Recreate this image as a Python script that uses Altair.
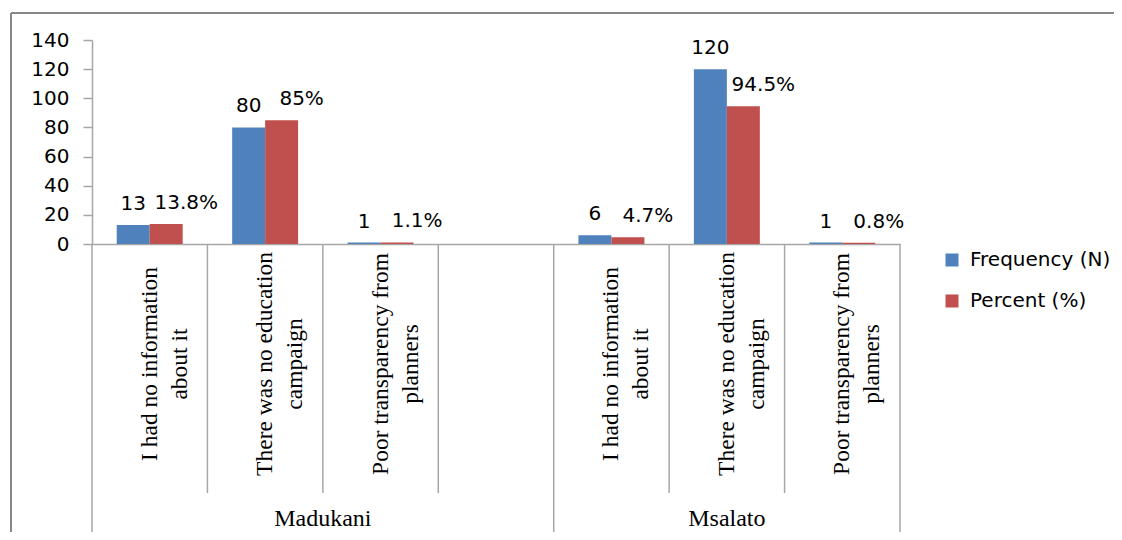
import altair as alt
import pandas as pd

# ---------------- data ----------------
groups = ["Madukani", "Msalato"]
reasons = [
    "I had no information about it",
    "There was no education campaign",
    "Poor transparency from planners",
]
reason_lines = [
    "I had no information\nabout it",
    "There was no education\ncampaign",
    "Poor transparency from\nplanners",
]
series = ["Frequency (N)", "Percent (%)"]
madukani_frequency = [13, 80, 1]
madukani_percent = [13.8, 85, 1.1]
msalato_frequency = [6, 120, 1]
msalato_percent = [4.7, 94.5, 0.8]
y_ticks = [0, 20, 40, 60, 80, 100, 120, 140]
colors = ["#4F81BD", "#C0504D"]

# ---------------- tables ----------------
blank_slot = "Madukani | "
slot_domain = ([f"Madukani | {r}" for r in reasons] + [blank_slot]
               + [f"Msalato | {r}" for r in reasons])

rows = []
for g, freqs, pcts in [("Madukani", madukani_frequency, madukani_percent),
                       ("Msalato", msalato_frequency, msalato_percent)]:
    for r, f, p in zip(reasons, freqs, pcts):
        rows.append({"slot": f"{g} | {r}", "series": series[0], "value": f, "label": f"{f:g}"})
        rows.append({"slot": f"{g} | {r}", "series": series[1], "value": p, "label": f"{p:g}%"})
bars_df = pd.DataFrame(rows)

cat_df = pd.DataFrame({
    "slot": [f"{g} | {r}" for g in groups for r in reasons],
    "text": [t for g in groups for t in reason_lines],
})

inner_sep = pd.DataFrame({"slot": [slot_domain[i] for i in (1, 2, 3, 5, 6)]})
group_start = pd.DataFrame({"slot": [slot_domain[0], slot_domain[4]]})
group_end = pd.DataFrame({"slot": [slot_domain[6]]})
one = pd.DataFrame({"k": [0]})

W, H = 808, 204
AXIS_GRAY = "#A6A6A6"
SANS = "DejaVu Sans"
SERIF = "Liberation Serif"

x_scale = alt.Scale(type="band", domain=slot_domain, paddingInner=0, paddingOuter=0)
xo_scale = alt.Scale(domain=series, paddingInner=0, paddingOuter=0.75)
y_scale = alt.Scale(domain=[0, 140], nice=False, zero=True)

x_axis = alt.Axis(labels=False, ticks=False, title=None, domainColor=AXIS_GRAY,
                  domainWidth=1.5, grid=False)
y_axis = alt.Axis(values=y_ticks, title=None, grid=False, domainColor=AXIS_GRAY,
                  domainWidth=1.5, tickColor=AXIS_GRAY, tickWidth=1.5, tickSize=9,
                  labelPadding=14, labelFont=SANS, labelFontSize=20,
                  labelColor="#000000", labelOverlap=False, labelBound=False,
                  labelFlush=False, labelSeparation=0)

x_enc = alt.X("slot:N", scale=x_scale, axis=x_axis)
y_enc = alt.Y("value:Q", scale=y_scale, axis=y_axis)
y_enc_noaxis = alt.Y("value:Q", scale=y_scale, axis=None)

bars = alt.Chart(bars_df).mark_bar().encode(
    x=x_enc,
    xOffset=alt.XOffset("series:N", scale=xo_scale),
    y=y_enc,
    color=alt.Color("series:N", scale=alt.Scale(domain=series, range=colors),
                    legend=alt.Legend(orient="none", legendX=850, legendY=210, title=None,
                                      symbolType="square", symbolSize=169,
                                      symbolStrokeWidth=0, labelFont=SANS,
                                      labelFontSize=20, labelColor="#000000",
                                      rowPadding=21, labelOffset=8, padding=0)),
)

freq_labels = alt.Chart(bars_df).transform_filter(
    alt.datum.series == series[0]
).mark_text(font=SANS, fontSize=20, color="#000000", baseline="alphabetic", dy=-15).encode(
    x=x_enc,
    xOffset=alt.XOffset("series:N", scale=xo_scale),
    y=y_enc,
    text="label:N",
)

pct_labels = alt.Chart(bars_df).transform_filter(
    alt.datum.series == series[1]
).mark_text(font=SANS, fontSize=20, color="#000000", baseline="alphabetic", dy=-15, dx=20).encode(
    x=x_enc,
    xOffset=alt.XOffset("series:N", scale=xo_scale),
    y=y_enc,
    text="label:N",
)

sep_inner = alt.Chart(inner_sep).mark_rule(color=AXIS_GRAY, strokeWidth=1.5).encode(
    x=alt.X("slot:N", scale=x_scale, axis=x_axis, bandPosition=0),
    y=alt.value(H), y2=alt.value(453),
)
sep_group_start = alt.Chart(group_start).mark_rule(color=AXIS_GRAY, strokeWidth=1.5).encode(
    x=alt.X("slot:N", scale=x_scale, axis=x_axis, bandPosition=0),
    y=alt.value(H), y2=alt.value(500),
)
sep_group_end = alt.Chart(group_end).mark_rule(color=AXIS_GRAY, strokeWidth=1.5).encode(
    x=alt.X("slot:N", scale=x_scale, axis=x_axis, bandPosition=1),
    y=alt.value(H), y2=alt.value(500),
)

cat_labels = alt.Chart(cat_df).mark_text(
    font=SERIF, fontSize=23.5, lineHeight=30, angle=270, align="center",
    baseline="middle", lineBreak="\n", color="#000000",
).encode(
    x=x_enc,
    y=alt.value(324),
    text="text:N",
)

grp1 = alt.Chart(pd.DataFrame({"slot": [slot_domain[2]], "g": [groups[0]]})).mark_text(
    font=SERIF, fontSize=24, color="#000000", baseline="alphabetic", align="center"
).encode(x=alt.X("slot:N", scale=x_scale, axis=x_axis, bandPosition=0),
         y=alt.value(486), text="g:N")
grp2 = alt.Chart(pd.DataFrame({"slot": [slot_domain[5]], "g": [groups[1]]})).mark_text(
    font=SERIF, fontSize=24, color="#000000", baseline="alphabetic", align="center"
).encode(x=alt.X("slot:N", scale=x_scale, axis=x_axis, bandPosition=0.5),
         y=alt.value(486), text="g:N")

border_top = alt.Chart(one).mark_rule(color="#878787", strokeWidth=2).encode(
    x=alt.value(-81), x2=alt.value(1030), y=alt.value(-27))
border_left = alt.Chart(one).mark_rule(color="#878787", strokeWidth=2).encode(
    x=alt.value(-81), y=alt.value(-27), y2=alt.value(510))

chart = alt.layer(
    border_top, border_left, sep_inner, sep_group_start, sep_group_end,
    bars, freq_labels, pct_labels, cat_labels, grp1, grp2,
).properties(
    width=W, height=H,
    autosize=alt.AutoSizeParams(type="none"),
    padding={"left": 84, "top": 32, "right": 214, "bottom": 288},
    background="white",
).configure_view(stroke="transparent").configure_axis(
    labelOverlap=False, labelBound=False
).configure_axisY(labelOverlap=False)

chart.save("out.html", embed_options={"renderer": "svg", "actions": False})
